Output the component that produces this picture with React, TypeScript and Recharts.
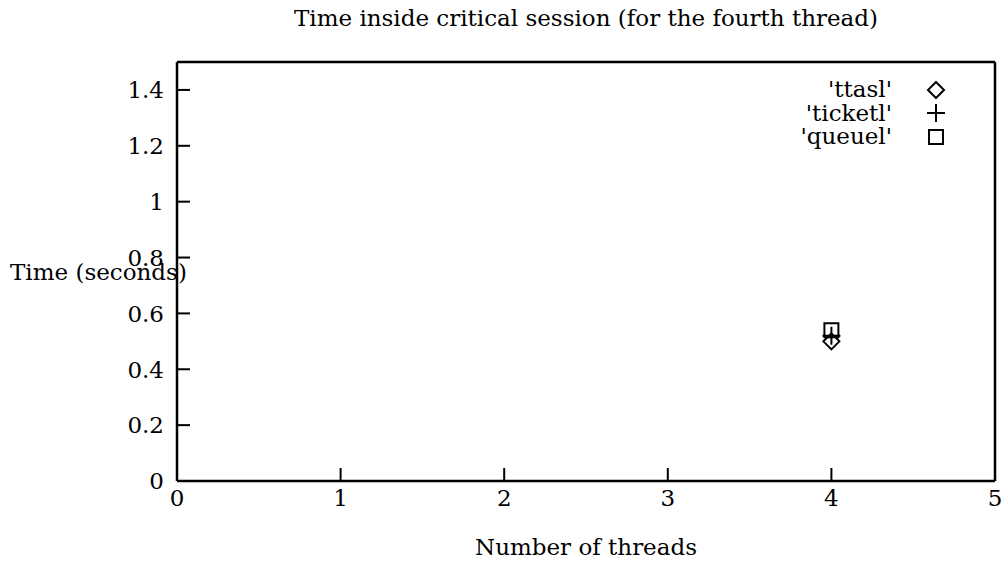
import { ScatterChart, Scatter, XAxis, YAxis, Legend, Label } from 'recharts'

const threads = [4]
const ttasl = [0.5]
const ticketl = [0.52]
const queuel = [0.54]

const xTicks = [0, 1, 2, 3, 4, 5]
const yTicks = [0, 0.2, 0.4, 0.6, 0.8, 1, 1.2, 1.4]

const FONT = '"DejaVu Serif", "Liberation Serif", serif'
const FS = 23
const TICK_LEN = 13

const toPoints = (ys: number[]) => threads.map((x, i) => ({ x, y: ys[i] }))

const series = [
  { name: "'ttasl'", data: toPoints(ttasl), symbol: 'diamond' },
  { name: "'ticketl'", data: toPoints(ticketl), symbol: 'plus' },
  { name: "'queuel'", data: toPoints(queuel), symbol: 'square' },
]

function symbolPath(kind: string, cx: number, cy: number) {
  if (kind === 'diamond') return `M${cx},${cy - 8}L${cx + 8},${cy}L${cx},${cy + 8}L${cx - 8},${cy}Z`
  if (kind === 'plus') return `M${cx - 9},${cy}L${cx + 9},${cy}M${cx},${cy - 9}L${cx},${cy + 9}`
  return `M${cx - 7},${cy - 7}L${cx + 7},${cy - 7}L${cx + 7},${cy + 7}L${cx - 7},${cy + 7}Z`
}

const makeShape = (kind: string) => (props: any) => (
  <path d={symbolPath(kind, props.cx, props.cy)} fill="none" stroke="#000" strokeWidth={2} />
)

const BottomTick = (props: any) => {
  const { x, y, payload } = props
  const base = y - 8
  return (
    <g>
      <line x1={x} y1={base} x2={x} y2={base - TICK_LEN} stroke="#000" strokeWidth={2} />
      <text x={x} y={y} dy="0.75em" textAnchor="middle" fontFamily={FONT} fontSize={FS} fill="#000">
        {payload.value}
      </text>
    </g>
  )
}

const TopTick = (props: any) => (
  <line x1={props.x} y1={props.y} x2={props.x} y2={props.y + TICK_LEN} stroke="#000" strokeWidth={2} />
)

const LeftTick = (props: any) => {
  const { x, y, payload } = props
  const base = x + 13
  return (
    <g>
      <line x1={base} y1={y} x2={base + TICK_LEN} y2={y} stroke="#000" strokeWidth={2} />
      <text x={x} y={y} dy="0.36em" textAnchor="end" fontFamily={FONT} fontSize={FS} fill="#000">
        {payload.value}
      </text>
    </g>
  )
}

const RightTick = (props: any) => (
  <line x1={props.x} y1={props.y} x2={props.x - TICK_LEN} y2={props.y} stroke="#000" strokeWidth={2} />
)

const LegendBox = () => (
  <div style={{ fontFamily: FONT, fontSize: FS, color: '#000', lineHeight: 1 }}>
    {series.map((s) => (
      <div key={s.name} style={{ display: 'flex', alignItems: 'center', justifyContent: 'flex-end', height: 23.5 }}>
        <span>{s.name}</span>
        <svg width={58} height={22}>
          <path d={symbolPath(s.symbol, 44, 11)} fill="none" stroke="#000" strokeWidth={2} />
        </svg>
      </div>
    ))}
  </div>
)

export default function App() {
  return (
    <div style={{ position: 'absolute', left: 0, top: 0, background: '#fff' }}>
      <ScatterChart width={1007} height={565} margin={{ top: 0, right: 0, bottom: 0, left: 0 }}>
        <XAxis
          xAxisId="bottom"
          type="number"
          dataKey="x"
          domain={[0, 5]}
          ticks={xTicks}
          height={84}
          tickSize={0}
          tickMargin={8}
          tickLine={false}
          axisLine={{ stroke: '#000', strokeWidth: 2.5 }}
          tick={BottomTick}
        >
          <Label value="Number of threads" position="insideBottom" offset={10} fontFamily={FONT} fontSize={FS} fill="#000" />
        </XAxis>
        <XAxis
          xAxisId="top"
          orientation="top"
          type="number"
          dataKey="x"
          domain={[0, 5]}
          ticks={xTicks}
          height={62}
          tickSize={0}
          tickMargin={0}
          tickLine={false}
          axisLine={{ stroke: '#000', strokeWidth: 2.5 }}
          tick={TopTick}
        >
          <Label
            value="Time inside critical session (for the fourth thread)"
            position="insideTop"
            offset={10}
            fontFamily={FONT}
            fontSize={FS}
            fill="#000"
          />
        </XAxis>
        <YAxis
          yAxisId="left"
          type="number"
          dataKey="y"
          domain={[0, 1.5]}
          ticks={yTicks}
          width={177}
          tickSize={0}
          tickMargin={13}
          tickLine={false}
          axisLine={{ stroke: '#000', strokeWidth: 2.5 }}
          tick={LeftTick}
        >
          <Label value="Time (seconds)" position="insideLeft" offset={10} fontFamily={FONT} fontSize={FS} fill="#000" />
        </YAxis>
        <YAxis
          yAxisId="right"
          orientation="right"
          type="number"
          dataKey="y"
          domain={[0, 1.5]}
          ticks={yTicks}
          width={12}
          tickSize={0}
          tickMargin={0}
          tickLine={false}
          axisLine={{ stroke: '#000', strokeWidth: 2.5 }}
          tick={RightTick}
        />
        <Legend
          layout="horizontal"
          verticalAlign="middle"
          align="center"
          content={LegendBox}
          wrapperStyle={{ top: 78, right: 57, left: 'auto', width: 'auto' }}
        />
        {series.map((s) => (
          <Scatter
            key={s.name}
            name={s.name}
            data={s.data}
            xAxisId="bottom"
            yAxisId="left"
            shape={makeShape(s.symbol)}
            isAnimationActive={false}
          />
        ))}
      </ScatterChart>
    </div>
  )
}
